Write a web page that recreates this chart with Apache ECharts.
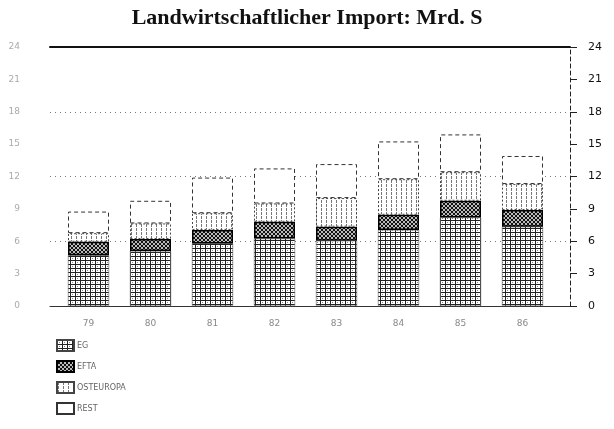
<!DOCTYPE html>
<html>
<head>
<meta charset="utf-8">
<script src="https://cdn.jsdelivr.net/npm/echarts@6/dist/echarts.min.js"></script>
<style>
html,body{margin:0;padding:0;background:#fff;}
#c{width:614px;height:429px;}
</style>
</head>
<body>
<div id="c"></div>
<script>
// ---- data ----
const categories = ['79', '80', '81', '82', '83', '84', '85', '86'];
const seriesNames = ['EG', 'EFTA', 'OSTEUROPA', 'REST'];
const eg        = [4.7, 5.1, 5.8, 6.25, 6.05, 7.05, 8.2, 7.35];
const efta      = [1.25, 1.1, 1.25, 1.55, 1.3, 1.4, 1.55, 1.55];
const osteuropa = [0.8, 1.45, 1.55, 1.7, 2.65, 3.3, 2.65, 2.4];
const rest      = [2.0, 2.1, 3.3, 3.25, 3.15, 3.5, 3.5, 2.6];
const yTicks = [0, 3, 6, 9, 12, 15, 18, 21, 24];

// ---- patterns ----
function pattern(w, h, draw) {
  const c = document.createElement('canvas');
  c.width = w; c.height = h;
  const ctx = c.getContext('2d');
  ctx.fillStyle = '#fff';
  ctx.fillRect(0, 0, w, h);
  draw(ctx);
  return { image: c, repeat: 'repeat' };
}
const egFill = pattern(5, 4, ctx => {
  ctx.fillStyle = '#222';
  ctx.fillRect(0, 0, 1, 4);
  ctx.fillRect(0, 0, 5, 1);
  ctx.fillStyle = '#888';
  ctx.fillRect(2, 2, 1, 1);
});
const eftaFill = pattern(4, 4, ctx => {
  ctx.fillStyle = '#bbb';
  ctx.fillRect(0, 0, 4, 4);
  ctx.fillStyle = '#111';
  for (let i = 0; i < 4; i++) {
    ctx.fillRect(i, i, 1, 1);
    ctx.fillRect(3 - i, i, 1, 1);
  }
});
const ostFill = pattern(5, 4, ctx => {
  ctx.fillStyle = '#777';
  ctx.fillRect(1, 0, 1, 3);
});

const ymin = yTicks[0], ymax = yTicks[yTicks.length - 1];
const yStep = yTicks[1] - yTicks[0];

const chart = echarts.init(document.getElementById('c'), null, { renderer: 'canvas' });
chart.setOption({
  animation: false,
  backgroundColor: '#fff',
  title: {
    text: 'Landwirtschaftlicher Import: Mrd. S',
    left: 'center',
    top: 2,
    textStyle: { fontFamily: 'Liberation Serif', fontWeight: 'bold', fontSize: 22, color: '#111' }
  },
  legend: {
    orient: 'vertical',
    left: 56,
    top: 339,
    padding: 0,
    icon: 'rect',
    itemWidth: 17,
    itemHeight: 11,
    itemGap: 8,
    data: seriesNames,
    textStyle: { fontFamily: 'DejaVu Sans', fontSize: 8, color: '#666', padding: [0, 0, 0, -2] }
  },
  grid: [
    { left: 50, right: 44, top: 47, bottom: 123 },
    { left: 57.5, width: 496, top: 47, bottom: 123 }
  ],
  xAxis: [
    { gridIndex: 0, type: 'value', position: 'top', min: 0, max: 1,
      axisLine: { show: true, onZero: false, lineStyle: { color: '#111', width: 2 } },
      axisTick: { show: false }, axisLabel: { show: false }, splitLine: { show: false } },
    { gridIndex: 0, type: 'value', position: 'bottom', min: 0, max: 1,
      axisLine: { show: true, onZero: false, lineStyle: { color: '#333', width: 1 } },
      axisTick: { show: false }, axisLabel: { show: false }, splitLine: { show: false } },
    { gridIndex: 1, type: 'category', data: categories,
      axisLine: { show: false }, axisTick: { show: false },
      axisLabel: { color: '#888', fontFamily: 'DejaVu Sans', fontSize: 9, margin: 13 } }
  ],
  yAxis: [
    { gridIndex: 0, type: 'value', position: 'left', min: ymin, max: ymax, interval: yStep,
      axisLine: { show: false, onZero: false }, axisTick: { show: false },
      axisLabel: { color: '#aaa', fontFamily: 'DejaVu Sans', fontSize: 9, margin: 30 },
      splitLine: { show: true, lineStyle: { color: ['#777', 'rgba(0,0,0,0)'], type: [1, 4], width: 1 } } },
    { gridIndex: 0, type: 'value', position: 'right', min: ymin, max: ymax, interval: yStep,
      axisLine: { show: true, onZero: false, lineStyle: { color: '#222', type: [4, 3], width: 1 } },
      axisTick: { show: true, length: 7, lineStyle: { color: '#222' } },
      axisLabel: { color: '#111', fontFamily: 'DejaVu Sans', fontSize: 11, margin: 18 },
      splitLine: { show: false } },
    { gridIndex: 1, type: 'value', min: ymin, max: ymax, show: false, splitLine: { show: false } }
  ],
  series: [
    { name: 'EG', type: 'bar', stack: 'all', xAxisIndex: 2, yAxisIndex: 2, barWidth: 41, data: eg,
      itemStyle: { color: egFill, borderColor: '#444', borderWidth: 0.5 } },
    { name: 'EFTA', type: 'bar', stack: 'all', xAxisIndex: 2, yAxisIndex: 2, barWidth: 41, data: efta,
      itemStyle: { color: eftaFill, borderColor: '#000', borderWidth: 1.5 } },
    { name: 'OSTEUROPA', type: 'bar', stack: 'all', xAxisIndex: 2, yAxisIndex: 2, barWidth: 41, data: osteuropa,
      itemStyle: { color: ostFill, borderColor: '#444', borderWidth: 1, borderType: [2, 2] } },
    { name: 'REST', type: 'bar', stack: 'all', xAxisIndex: 2, yAxisIndex: 2, barWidth: 41, data: rest,
      itemStyle: { color: '#fff', borderColor: '#333', borderWidth: 1, borderType: [4, 3] } }
  ]
});
</script>
</body>
</html>
